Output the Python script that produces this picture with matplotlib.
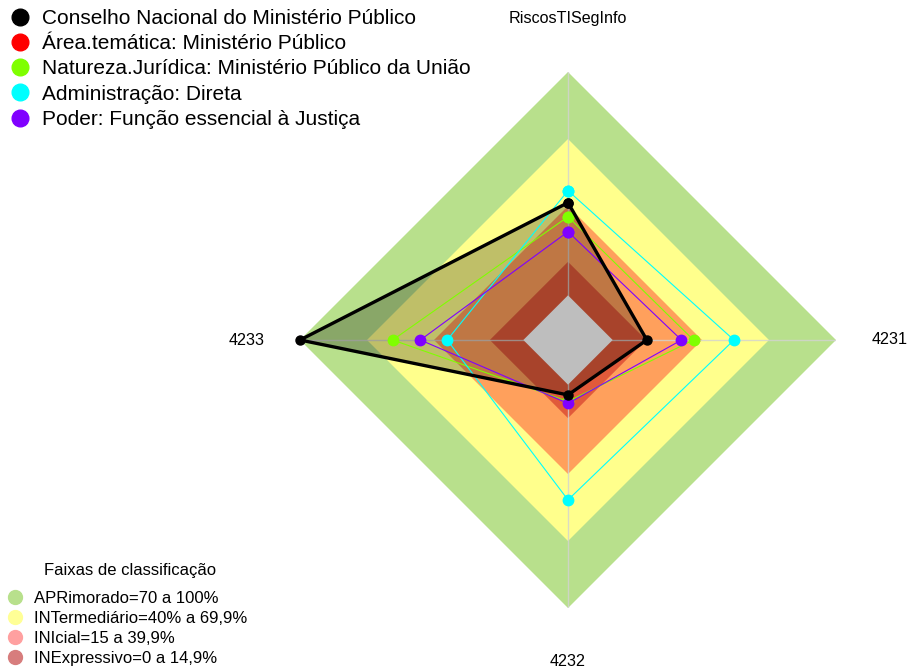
import matplotlib
matplotlib.use('Agg')
import matplotlib.pyplot as plt
from matplotlib.lines import Line2D
import numpy as np

plt.rcParams['font.family'] = ['Liberation Sans', 'DejaVu Sans']

# eixos do radar (sentido horário a partir do topo)
eixos = ['RiscosTISegInfo', '4231', '4232', '4233']

series_nomes = ['Conselho Nacional do Ministério Público',
                'Área.temática: Ministério Público',
                'Natureza.Jurídica: Ministério Público da União',
                'Administração: Direta',
                'Poder: Função essencial à Justiça']
series_cores = ['black', 'red', '#7FFF00', '#00FFFF', '#8000FF']

cnmp = [41.5, 15.3, 4.6, 100]
area_tematica = [41.5, 15.3, 4.6, 100]
natureza = [35.2, 36.2, 7.5, 58.5]
administracao = [46.9, 54.3, 51.6, 34.1]
poder = [28.5, 30.8, 8.4, 46.1]

# faixas de classificação
faixas_titulo = 'Faixas de classificação'
faixas_nomes = ['APRimorado=70 a 100%', 'INTermediário=40% a 69,9%',
                'INIcial=15 a 39,9%', 'INExpressivo=0 a 14,9%']
faixas_limites = [100, 70, 40, 15]
faixas_cores = ['#B8E08C', '#FFFF8C', '#FFA05C', '#E15A3A']
faixas_legenda = ['#B8E08C', '#FFFF96', '#FFA0A0', '#D77D7D']

vmin, vmax = -20, 100
theta = np.pi / 2 - np.arange(len(eixos)) * 2 * np.pi / len(eixos)


def raio(v):
    return (np.asarray(v, dtype=float) - vmin) / (vmax - vmin)


def xy(valores):
    r = raio(valores)
    x = r * np.cos(theta)
    y = r * np.sin(theta)
    return np.append(x, x[0]), np.append(y, y[0])


fig = plt.figure(figsize=(9.07, 6.70), dpi=100)
ax = fig.add_axes([300 / 907, 62 / 670, 536 / 907, 536 / 670])
ax.set_xlim(-1, 1)
ax.set_ylim(-1, 1)
ax.axis('off')

# faixas coloridas
for lim, cor in zip(faixas_limites, faixas_cores):
    x, y = xy([lim] * len(eixos))
    ax.fill(x, y, color=cor, lw=0, zorder=1)

# linhas dos eixos
for t in theta:
    ax.plot([0, np.cos(t)], [0, np.sin(t)], color='#D3D3D3', lw=1, alpha=0.8, zorder=2)

# preenchimento da série principal
x, y = xy(cnmp)
ax.fill(x, y, color='black', alpha=0.25, lw=0, zorder=3)

# centro cinza
x, y = xy([0] * len(eixos))
ax.fill(x, y, color='#BEBEBE', lw=0, zorder=4)

dados = [cnmp, area_tematica, natureza, administracao, poder]
ordem = [1, 2, 3, 4, 0]
for i in ordem:
    x, y = xy(dados[i])
    if i == 0:
        ax.plot(x, y, color='black', lw=2.4, marker='o', markersize=6.5, zorder=10, clip_on=False)
    elif i == 1:
        # mesma curva da série principal, fica por baixo dela
        ax.plot(x, y, color=series_cores[i], lw=0.8, marker='o', markersize=5, zorder=5, clip_on=False)
    else:
        ax.plot(x, y, color=series_cores[i], lw=0.8, marker='o', markersize=7.5, zorder=6, clip_on=False)

# rótulos dos eixos
for nome, t in zip(eixos, theta):
    ax.text(1.2 * np.cos(t), 1.2 * np.sin(t), nome, ha='center', va='center', fontsize=11.6)

h1 = [Line2D([], [], marker='o', linestyle='none', color=c, markersize=12) for c in series_cores]
leg1 = fig.legend(h1, series_nomes, loc='upper left', bbox_to_anchor=(10 / 907, 1 - 9 / 670),
                  frameon=False, fontsize=15, handlelength=0.95, handletextpad=0.6,
                  labelspacing=0.3, borderpad=0, borderaxespad=0)

h2 = [Line2D([], [], marker='o', linestyle='none', color=c, markersize=10) for c in faixas_legenda]
leg2 = fig.legend(h2, faixas_nomes, loc='lower left', bbox_to_anchor=(7 / 907, 4 / 670),
                  frameon=False, fontsize=12, handlelength=1.0, handletextpad=0.6,
                  labelspacing=0.3, borderpad=0, borderaxespad=0)
fig.text(130 / 907, 1 - 570 / 670, faixas_titulo, ha='center', va='center', fontsize=12)

fig.savefig('out.png', dpi=100)
